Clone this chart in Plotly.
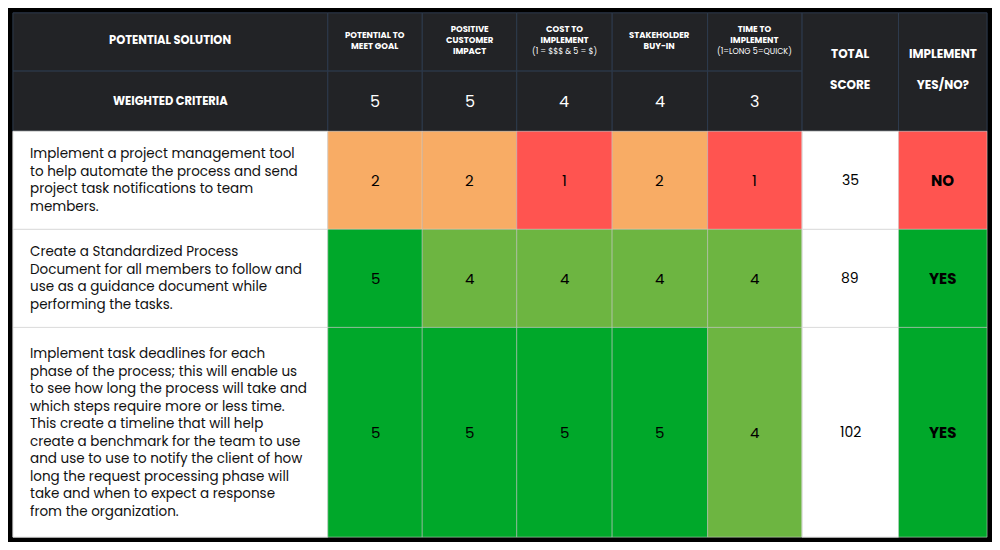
import plotly.graph_objects as go

criteria = ["POTENTIAL TO<br>MEET GOAL", "POSITIVE<br>CUSTOMER<br>IMPACT",
            "COST TO<br>IMPLEMENT<br><span style='font-size:8px;font-weight:normal'>(1 = $$$ & 5 = $)</span>",
            "STAKEHOLDER<br>BUY-IN",
            "TIME TO<br>IMPLEMENT<br><span style='font-size:8px;font-weight:normal'>(1=LONG 5=QUICK)</span>"]
weights = [5, 5, 4, 4, 3]
solutions = [
    "Implement a project management tool<br>to help automate the process and send<br>project task notifications to team<br>members.",
    "Create a Standardized Process<br>Document for all members to follow and<br>use as a guidance document while<br>performing the tasks.",
    "Implement task deadlines for each<br>phase of the process; this will enable us<br>to see how long the process will take and<br>which steps require more or less time.<br>This create a timeline that will help<br>create a benchmark for the team to use<br>and use to use to notify the client of how<br>long the request processing phase will<br>take and when to expect a response<br>from the organization.",
]
scores = [[2, 2, 1, 2, 1], [5, 4, 4, 4, 4], [5, 5, 5, 5, 4]]
totals = [35, 89, 102]
implement = ["NO", "YES", "YES"]

score_colors = {1: "#FF5450", 2: "#F8AC65", 3: "#FFD966", 4: "#6DB541", 5: "#00A82A"}
impl_colors = {"NO": "#FF5450", "YES": "#00A82A"}

# layout geometry (pixels)
col_x = [5, 325, 421, 517, 614, 711, 807, 905, 995]
row_y = [127, 228, 329, 545]
hdr_y = [5, 65, 127]
HDR = "#222326"
GRID = "#2E3B4E"
FONT = "Poppins, Inter, Noto Sans, sans-serif"

fig = go.Figure()
shapes, ann = [], []

def rect(x0, x1, y0, y1, fill, line="rgba(0,0,0,0)", w=0):
    shapes.append(dict(type="rect", xref="x", yref="y", x0=x0, x1=x1, y0=y0, y1=y1,
                       fillcolor=fill, line=dict(color=line, width=w), layer="below"))

def text(x, y, t, size, color="black", bold=False, align="center", xanchor="center"):
    if bold:
        t = "<b>" + t + "</b>"
    ann.append(dict(x=x, y=y, xref="x", yref="y", text=t, showarrow=False, align=align,
                    xanchor=xanchor, font=dict(size=size, color=color, family=FONT)))

# outer black frame
rect(0, 1000, 0, 550, "black")
# header
for r in range(2):
    for c in range(6):
        rect(col_x[c], col_x[c + 1], hdr_y[r], hdr_y[r + 1], HDR, GRID, 1)
for c in (6, 7):
    rect(col_x[c], col_x[c + 1], hdr_y[0], hdr_y[2], HDR, GRID, 1)

cx = [(col_x[i] + col_x[i + 1]) / 2 for i in range(len(col_x) - 1)]
text(cx[0], 33, "POTENTIAL SOLUTION", 11.5, "white", True)
text(cx[0], 96, "WEIGHTED CRITERIA", 11.5, "white", True)
for i, (c, w) in enumerate(zip(criteria, weights)):
    text(cx[i + 1], 33, c, 8.5, "white", True)
    text(cx[i + 1], 96, str(w), 16, "white")
text(cx[6], 63, "TOTAL<br><br>SCORE", 12, "white", True)
text(cx[7], 63, "IMPLEMENT<br><br>YES/NO?", 12, "white", True)

# body
for r in range(3):
    y0, y1 = row_y[r], row_y[r + 1]
    ym = (y0 + y1) / 2
    rect(col_x[0], col_x[1], y0, y1, "white", "#DDDDDD", 1)
    text(20, ym, solutions[r], 13.5, "#111", align="left", xanchor="left")
    for c, s in enumerate(scores[r]):
        rect(col_x[c + 1], col_x[c + 2], y0, y1, score_colors[s], "#DDDDDD", 0.5)
        text(cx[c + 1], ym, str(s), 15)
    rect(col_x[6], col_x[7], y0, y1, "white", "#DDDDDD", 1)
    text(cx[6], ym, str(totals[r]), 14)
    rect(col_x[7], col_x[8], y0, y1, impl_colors[implement[r]], "#DDDDDD", 0.5)
    text(cx[7], ym, implement[r], 15, bold=True)

fig.update_layout(width=984, height=534, margin=dict(l=0, r=0, t=0, b=0),
                  shapes=shapes, annotations=ann, showlegend=False,
                  plot_bgcolor="black", paper_bgcolor="black")
fig.update_xaxes(range=[0, 1000], visible=False, fixedrange=True)
fig.update_yaxes(range=[550, 0], visible=False, fixedrange=True)
fig.write_html("out.html")
